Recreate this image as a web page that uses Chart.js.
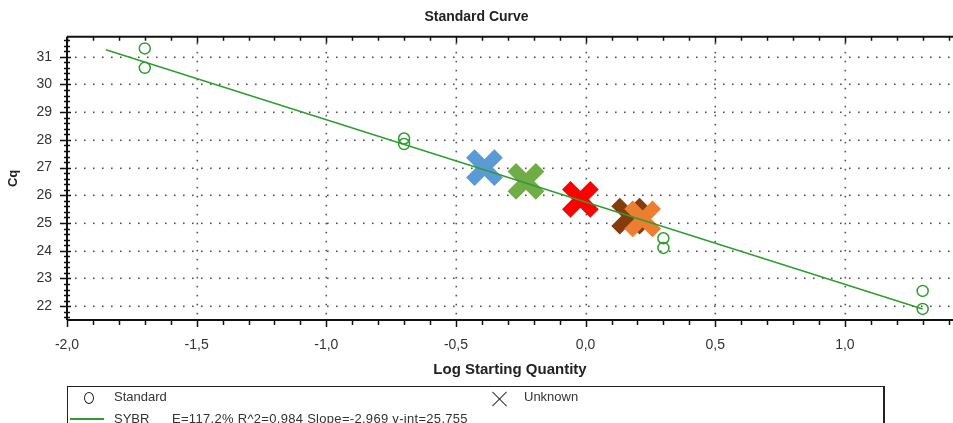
<!DOCTYPE html>
<html>
<head>
<meta charset="utf-8">
<script src="https://cdn.jsdelivr.net/npm/chart.js@4"></script>
<style>
  body { margin: 0; background: #fff; font-family: "Liberation Sans", Arial, sans-serif; }
  #wrap { position: relative; width: 953px; height: 423px; overflow: hidden; }
  #legendBox { position: absolute; left: 67px; top: 386px; width: 818px; height: 60px;
    border: 1px solid #222; border-right-width: 2px; box-sizing: border-box; font-size: 13px; color: #333; }
  .lg { position: absolute; white-space: nowrap; line-height: 15px; }
  #circ { position: absolute; left: 16px; top: 5px; width: 8px; height: 10px; border: 1.5px solid #222; border-radius: 50%; }
  #xmark { position: absolute; left: 423px; top: 3px; width: 18px; height: 18px; }
  #xmark:before, #xmark:after { content: ''; position: absolute; left: 8px; top: -1px; width: 1px; height: 20px; background: #333; }
  #xmark:before { transform: rotate(45deg); }
  #xmark:after { transform: rotate(-45deg); }
  #gline { position: absolute; left: 2px; top: 31px; width: 34px; height: 2px; background: #2e9e2e; }
</style>
</head>
<body>
<div id="wrap">
  <canvas id="curva" width="953" height="423"></canvas>
  <div id="legendBox">
    <div id="circ"></div>
    <div class="lg" style="left:46px;top:2px">Standard</div>
    <div id="xmark"></div>
    <div class="lg" style="left:456px;top:2px">Unknown</div>
    <div id="gline"></div>
    <div class="lg" style="left:46px;top:24px">SYBR</div>
    <div class="lg" style="left:104px;top:24px;letter-spacing:0.3px">E=117,2% R^2=0,984 Slope=-2,969 y-int=25,755</div>
  </div>
</div>
<script>
// Standard points (log quantity, Cq)
const stdX = [-1.7, -1.7, -0.7, -0.7, 0.3, 0.3, 1.3, 1.3];
const stdY = [31.3, 30.6, 28.05, 27.85, 24.45, 24.1, 22.55, 21.9];

// regression line ends
const fitX = [-1.85, 1.3];
const fitY = [31.25, 21.9];

// unknown samples
const unkX = [-0.39, -0.23, -0.02, 0.17, 0.22];
const unkY = [27.0, 26.5, 25.85, 25.25, 25.15];
const unkColores = ['#5b9bd5', '#70ad47', '#ff0000', '#843c0c', '#ed7d31'];

const xTicks = [-2.0, -1.5, -1.0, -0.5, 0.0, 0.5, 1.0];
const yTicks = [22, 23, 24, 25, 26, 27, 28, 29, 30, 31];

const verde = '#2e9e2e';

function pares(xs, ys) {
  return xs.map((x, i) => ({ x, y: ys[i] }));
}

// ejes, marcas y rejilla punteada al estilo del software qPCR
const ejesPlugin = {
  id: 'ejes',
  beforeDatasetsDraw(chart) {
    const { ctx, chartArea: a, scales: { x, y } } = chart;
    ctx.save();
    ctx.fillStyle = '#555';
    // rejilla horizontal
    yTicks.forEach(v => {
      const py = Math.round(y.getPixelForValue(v));
      for (let px = a.left + 8; px < a.right; px += 9) ctx.fillRect(px, py - 0.5, 1.6, 1.6);
    });
    // rejilla vertical
    xTicks.slice(1).forEach(v => {
      const px = Math.round(x.getPixelForValue(v));
      for (let py = a.top + 6; py < a.bottom; py += 9) ctx.fillRect(px - 0.5, py, 1.6, 1.6);
    });

    ctx.strokeStyle = '#111';
    ctx.lineWidth = 2;
    ctx.beginPath();
    ctx.moveTo(a.left, a.top); ctx.lineTo(a.right, a.top);
    ctx.moveTo(a.left, a.top); ctx.lineTo(a.left, a.bottom);
    ctx.moveTo(a.left, a.bottom); ctx.lineTo(a.right, a.bottom);
    ctx.stroke();

    // marcas en X (abajo y arriba)
    ctx.lineWidth = 1.5;
    ctx.beginPath();
    for (let i = -20; i <= 14; i++) {
      const v = i / 10;
      const px = Math.round(x.getPixelForValue(v)) + 0.5;
      const mayor = i % 5 === 0;
      ctx.moveTo(px, a.bottom); ctx.lineTo(px, a.bottom + (mayor ? 7 : 5));
      ctx.moveTo(px, a.top); ctx.lineTo(px, a.top + (mayor ? 6 : 4));
    }
    // marcas en Y
    for (let i = 108; i <= 158; i++) {
      const v = i / 5;
      if (v < y.min || v > y.max) continue;
      const py = Math.round(y.getPixelForValue(v)) + 0.5;
      const mayor = i % 5 === 0;
      ctx.moveTo(a.left - (mayor ? 7 : 3), py); ctx.lineTo(a.left + (mayor ? 4 : 3), py);
    }
    ctx.stroke();
    ctx.restore();
  }
};

const ctx = document.getElementById('curva').getContext('2d');

const chart = new Chart(ctx, {
  type: 'scatter',
  data: {
    datasets: [
      {
        label: 'SYBR',
        type: 'line',
        data: pares(fitX, fitY),
        borderColor: verde,
        borderWidth: 1.5,
        pointRadius: 0,
        fill: false
      },
      {
        label: 'Standard',
        data: pares(stdX, stdY),
        pointStyle: 'circle',
        pointRadius: 5.5,
        borderColor: verde,
        backgroundColor: 'rgba(0,0,0,0)',
        borderWidth: 1.5
      },
      {
        label: 'Unknown',
        data: pares(unkX, unkY),
        pointStyle: 'crossRot',
        pointRadius: 20,
        borderWidth: 12,
        borderColor: unkColores,
        backgroundColor: unkColores
      }
    ]
  },
  plugins: [ejesPlugin],
  options: {
    responsive: false,
    animation: false,
    events: [],
    layout: { padding: 0, autoPadding: false },
    plugins: {
      legend: { display: false },
      tooltip: { enabled: false },
      title: {
        display: true,
        text: 'Standard Curve',
        color: '#222',
        font: { family: 'Liberation Sans', size: 14, weight: 'bold' },
        padding: { top: 9, bottom: 11 }
      }
    },
    scales: {
      x: {
        type: 'linear',
        min: -2.0,
        max: 1.417,
        afterBuildTicks: s => { s.ticks = xTicks.map(v => ({ value: v })); },
        afterFit: s => { s.height = 103; s.paddingLeft = 0; s.paddingRight = 0; },
        grid: { display: false, drawTicks: false },
        border: { display: false },
        ticks: {
          padding: 17,
          color: '#333',
          font: { family: 'Liberation Sans', size: 14 },
          callback: v => Number(v).toFixed(1).replace('.', ','),
          maxRotation: 0
        },
        title: {
          display: true,
          text: 'Log Starting Quantity',
          color: '#222',
          font: { family: 'Liberation Sans', size: 15, weight: 'bold' },
          padding: { top: 0, bottom: 44 }
        }
      },
      y: {
        type: 'linear',
        min: 21.5,
        max: 31.72,
        afterBuildTicks: s => { s.ticks = yTicks.map(v => ({ value: v })); },
        afterFit: s => { s.width = 67; s.paddingTop = 0; s.paddingBottom = 0; },
        grid: { display: false, drawTicks: false },
        border: { display: false },
        ticks: {
          padding: 15,
          color: '#333',
          font: { family: 'Liberation Sans', size: 14 }
        },
        title: {
          display: true,
          text: 'Cq',
          color: '#222',
          font: { family: 'Liberation Sans', size: 13, weight: 'bold' },
          padding: { top: 6, bottom: 0 }
        }
      }
    }
  }
});
</script>
</body>
</html>
